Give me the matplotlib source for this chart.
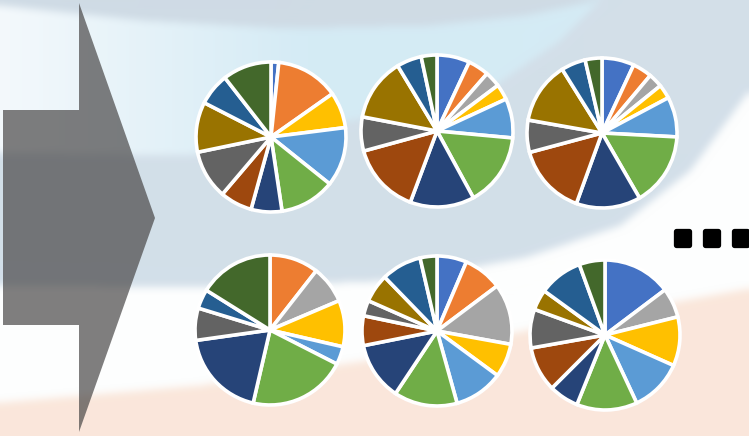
import matplotlib.pyplot as plt
import matplotlib.patheffects as pe
import numpy as np
from matplotlib.patches import Polygon

W, H = 749, 436

# Office-style slice colours, in the order each pie uses them
COLORS = ['#4472C4', '#ED7D31', '#A5A5A5', '#FFC000', '#5B9BD5', '#70AD47',
          '#264478', '#9E480E', '#636363', '#997300', '#255E91', '#43682B']

# slice sizes per pie (degrees, clockwise from 12 o'clock); 0 = slice absent
pie_1 = [6, 49, 0, 28, 46, 43, 24, 25, 38, 39, 25, 38]
pie_2 = [25, 16, 12, 12, 30, 56, 49, 54, 26, 48, 19, 12]
pie_3 = [25, 15, 11, 11, 31, 57, 50, 55, 25, 48, 19, 13]
pie_4 = [0, 38, 29, 36, 14, 76, 69, 0, 25, 0, 15, 58]
pie_5 = [23, 30, 47, 26, 38, 49, 45, 23, 12, 22, 31, 13]
pie_6 = [53, 0, 23, 38, 41, 47, 23, 35, 30, 16, 34, 20]

ellipsis_text = '...'


def curve(xs, pts):
    px, py = zip(*pts)
    return np.interp(xs, px, py)


def box_blur(img, r):
    k = 2 * r + 1
    out = img.copy()
    for axis in (0, 1):
        pad = [(0, 0)] * 3
        pad[axis] = (r + 1, r)
        p = np.pad(out, pad, mode='edge')
        c = np.cumsum(p, axis=axis)
        if axis == 0:
            out = (c[k:] - c[:-k]) / k
        else:
            out = (c[:, k:] - c[:, :-k]) / k
    return out


def background():
    x = np.arange(W)
    y = np.arange(H)[:, None]
    top_arc = curve(x, [(0, 5), (143, 20), (287, 28), (430, 25), (525, 15), (597, 0), (749, -10)])
    lb_bottom = curve(x, [(0, 152), (190, 155), (350, 120), (480, 95), (560, 40), (600, 0), (749, -10)])
    gb_bottom = curve(x, [(0, 285), (200, 287), (400, 280), (526, 257), (620, 225), (690, 170), (749, 90)])
    peach_top = curve(x, [(0, 402), (200, 385), (400, 355), (600, 315), (749, 288)])

    img = np.ones((H, W, 3)) * np.array([253, 254, 254]) / 255
    peach = np.array([250, 231, 219]) / 255
    grayblue = np.array([211, 223, 233]) / 255
    crescent = np.array([207, 219, 229]) / 255
    t = np.clip(x / 300.0, 0, 1)[:, None]
    lightblue = (1 - t) * np.array([244, 249, 252]) / 255 + t * np.array([213, 235, 245]) / 255

    img[y > peach_top] = peach
    m = np.broadcast_to(y < gb_bottom, (H, W))
    img[m] = grayblue
    m = np.broadcast_to(y < lb_bottom, (H, W))
    lb = np.broadcast_to(lightblue[None, :, :], (H, W, 3))
    img[m] = lb[m]
    m = np.broadcast_to(y < top_arc, (H, W))
    img[m] = crescent
    return box_blur(box_blur(img, 4), 4)


fig = plt.figure(figsize=(W / 100, H / 100), dpi=100)
ax = fig.add_axes([0, 0, 1, 1])
ax.imshow(background(), extent=(0, W, H, 0), interpolation='bilinear')
ax.set_xlim(0, W)
ax.set_ylim(H, 0)
ax.axis('off')

# big grey arrow on the left
arrow = Polygon([(3, 110), (79, 110), (79, 3), (155, 218), (79, 432), (79, 325), (3, 325)],
                closed=True, facecolor='#474545', edgecolor='none', alpha=0.69)
ax.add_patch(arrow)

# heavy rounded dots: bold text fattened by a round-joined stroke
ax.text(668, 245.5, ellipsis_text, fontsize=55, fontweight='bold', color='black',
        ha='left', va='baseline',
        path_effects=[pe.withStroke(linewidth=3.8, foreground='black', joinstyle='round')])

pies = [(pie_1, 271, 137, 75), (pie_2, 437, 131, 76), (pie_3, 602, 133, 75),
        (pie_4, 270, 330, 75), (pie_5, 437, 331, 75), (pie_6, 605, 335, 75)]

lim = 1.06
for vals, cx, cy, r in pies:
    pax = fig.add_axes([(cx - r * lim) / W, 1 - (cy + r * lim) / H,
                        2 * r * lim / W, 2 * r * lim / H])
    sizes = [v for v in vals if v > 0]
    cols = [c for v, c in zip(vals, COLORS) if v > 0]
    pax.pie(sizes, colors=cols, startangle=90, counterclock=False,
            wedgeprops=dict(edgecolor='white', linewidth=2.6))
    pax.set_xlim(-lim, lim)
    pax.set_ylim(-lim, lim)
    pax.set_aspect('equal')
    pax.axis('off')

fig.savefig('out.png', dpi=100)
